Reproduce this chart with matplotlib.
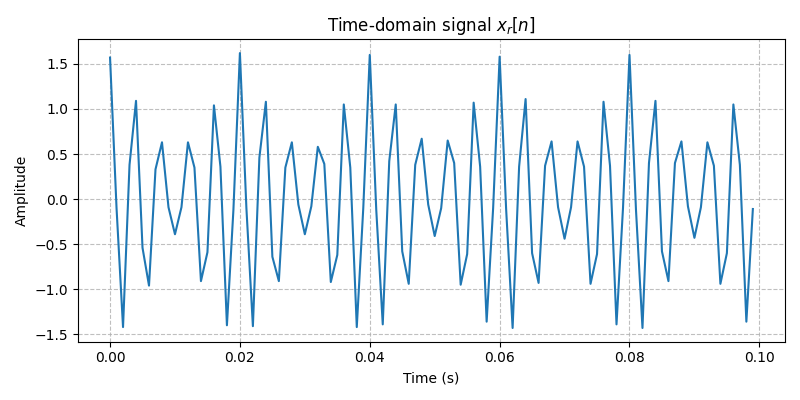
import numpy as np
import matplotlib
matplotlib.use('Agg')
import matplotlib.pyplot as plt

# sample rate 1 kHz, 100 samples
fs = 1000
n = np.arange(100)
t = n / fs

# amplitudes
x_r = [1.57, -0.10, -1.42, 0.38, 1.09, -0.54, -0.96, 0.33, 0.63, -0.09,
       -0.39, -0.09, 0.63, 0.35, -0.91, -0.59, 1.04, 0.36, -1.40, -0.12,
       1.62, -0.10, -1.41, 0.46, 1.08, -0.64, -0.91, 0.35, 0.63, -0.06,
       -0.39, -0.08, 0.58, 0.39, -0.92, -0.62, 1.05, 0.35, -1.42, -0.10,
       1.60, -0.12, -1.39, 0.42, 1.05, -0.58, -0.94, 0.38, 0.67, -0.06,
       -0.41, -0.10, 0.65, 0.40, -0.95, -0.61, 1.07, 0.36, -1.36, -0.10,
       1.58, -0.11, -1.43, 0.36, 1.11, -0.60, -0.93, 0.37, 0.64, -0.09,
       -0.44, -0.09, 0.64, 0.36, -0.94, -0.61, 1.08, 0.37, -1.39, -0.10,
       1.60, -0.12, -1.43, 0.40, 1.09, -0.58, -0.91, 0.40, 0.64, -0.08,
       -0.43, -0.09, 0.63, 0.37, -0.94, -0.60, 1.05, 0.38, -1.36, -0.11]

plt.figure(figsize=(8, 4), dpi=100)
plt.plot(t, x_r)
plt.title('Time-domain signal $x_r[n]$')
plt.xlabel('Time (s)')
plt.ylabel('Amplitude')
plt.grid(True, linestyle='--', alpha=0.8)
plt.tight_layout()
plt.savefig('out.png')
